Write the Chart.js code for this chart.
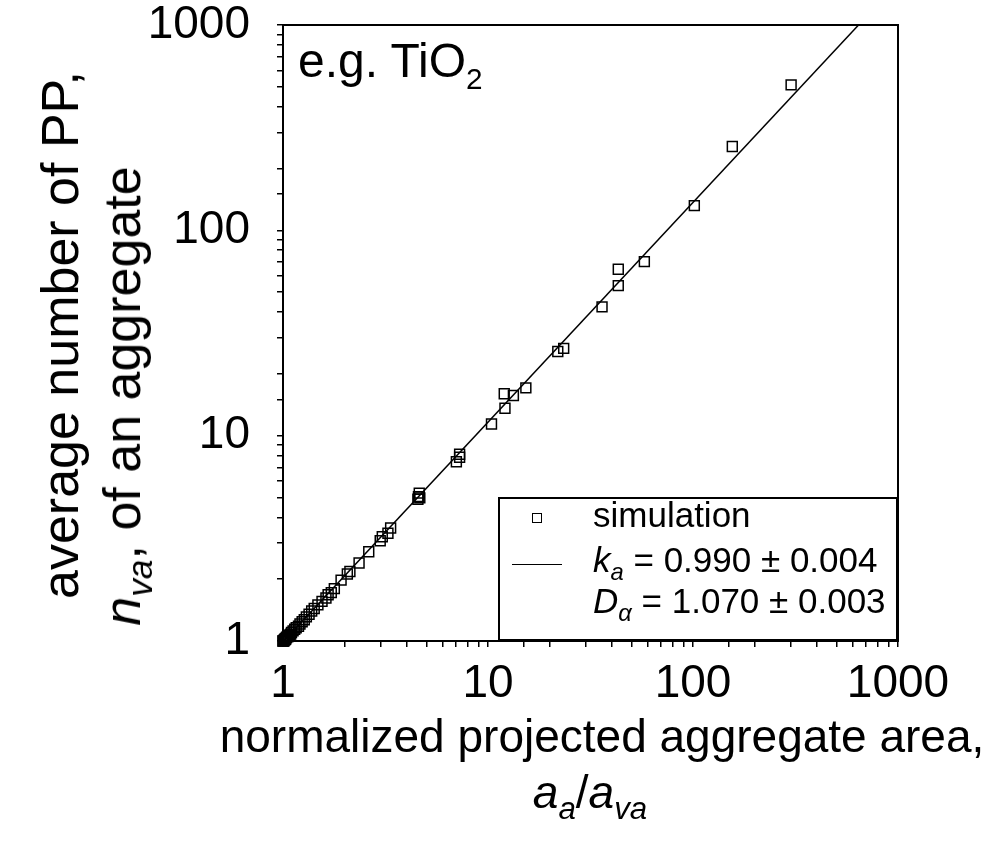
<!DOCTYPE html>
<html>
<head>
<meta charset="utf-8">
<script src="https://cdn.jsdelivr.net/npm/chart.js@4.4.1/dist/chart.umd.min.js"></script>
<style>
  html, body { margin: 0; padding: 0; background: #fff; }
  #wrap { position: relative; width: 994px; height: 858px; overflow: hidden; font-family: "Liberation Sans", Arial, sans-serif; color: #000; }
  #wrap canvas { position: absolute; left: 0; top: 0; }
  .t { position: absolute; white-space: nowrap; line-height: 1; }
  .sub { font-size: 0.68em; position: relative; top: 0.34em; }
  .legbox { position: absolute; left: 498px; top: 497px; width: 400px; height: 144px; border: 2px solid #000; box-sizing: border-box; background: #fff; }
</style>
</head>
<body>
<div id="wrap">
  <canvas id="chart" width="994" height="858"></canvas>

  <div class="t" style="left:298px; top:37px; font-size:48px;">e.g. TiO<span class="sub" style="font-size:0.62em; top:0.4em;">2</span></div>

  <div class="legbox"></div>
  <div style="position:absolute; left:532px; top:513px; width:10px; height:10px; border:1.5px solid #000; box-sizing:border-box;"></div>
  <div style="position:absolute; left:512px; top:564px; width:50px; border-top:1.5px solid #000;"></div>
  <div class="t" style="left:593px; top:497px; font-size:35px;">simulation</div>
  <div class="t" style="left:593px; top:542px; font-size:35px;"><i>k</i><span class="sub"><i>a</i></span> = 0.990 ± 0.004</div>
  <div class="t" style="left:593px; top:583px; font-size:35px;"><i>D</i><span class="sub"><i>α</i></span> = 1.070 ± 0.003</div>

  <div class="t" style="left:602px; top:713px; font-size:46px; transform:translateX(-50%);">normalized projected aggregate area,</div>
  <div class="t" style="left:590px; top:769px; font-size:46px; transform:translateX(-50%);"><i>a</i><span class="sub"><i>a</i></span>/<i>a</i><span class="sub"><i>va</i></span></div>

  <div class="t" style="left:60px; top:335px; font-size:52px; transform:translate(-50%,-50%) rotate(-90deg);">average number of PP,</div>
  <div class="t" style="left:122px; top:396px; font-size:52px; transform:translate(-50%,-50%) rotate(-90deg);"><i>n</i><span class="sub"><i>va</i></span>, of an aggregate</div>
</div>
<script>
// simulation points
const simX = [301, 155.5, 101.5, 57.9, 43.2, 43.2, 36.0, 23.4, 21.9, 15.3, 13.3, 12.0, 12.1, 10.4,
  7.27, 7.27, 7.01, 4.62, 4.58, 4.55, 4.65, 3.35, 3.25, 3.05, 2.98, 2.62, 2.35, 2.12, 2.06, 1.92,
  1.78, 1.72, 1.66, 1.62, 1.55, 1.48, 1.42, 1.38, 1.34, 1.30, 1.27, 1.24, 1.21, 1.19, 1.16, 1.14,
  1.12, 1.10, 1.09, 1.08, 1.07, 1.06, 1.05, 1.04, 1.03, 1.03, 1.02, 1.02, 1.01, 1.01, 1.00, 1.00];
const simY = [511, 256, 132, 70.4, 64.6, 53.8, 42.4, 26.6, 25.7, 17.1, 15.7, 16.0, 13.6, 11.4,
  8.12, 7.85, 7.47, 5.25, 5.05, 4.90, 4.98, 3.55, 3.35, 3.22, 3.08, 2.72, 2.40, 2.18, 2.12, 1.98,
  1.80, 1.72, 1.68, 1.62, 1.56, 1.50, 1.44, 1.40, 1.35, 1.31, 1.27, 1.24, 1.21, 1.18, 1.16, 1.14,
  1.12, 1.10, 1.08, 1.07, 1.06, 1.05, 1.05, 1.04, 1.03, 1.02, 1.02, 1.01, 1.01, 1.00, 1.00, 1.00];

// fitted power law, end points of the drawn line
const fitX = [1, 642];
const fitY = [0.99, 1000];

const axisTicks = [1, 10, 100, 1000];

const FONT = '"Liberation Sans", Arial, sans-serif';

const isMajor = v => axisTicks.some(t => Math.abs(t - v) < 1e-6 * t);

const framePlugin = {
  id: 'frame',
  afterDraw(chart) {
    const { ctx, chartArea: a } = chart;
    ctx.save();
    ctx.strokeStyle = '#000';
    ctx.lineWidth = 2;
    ctx.strokeRect(a.left, a.top, a.right - a.left, a.bottom - a.top);
    ctx.restore();
  }
};

const axisOpts = (fit) => ({
  type: 'logarithmic',
  min: 1,
  max: 1000,
  afterFit: fit,
  border: { color: '#000', width: 2 },
  grid: { drawOnChartArea: false, drawTicks: true, tickLength: 6, color: '#000', lineWidth: 1.5 },
  ticks: {
    autoSkip: false,
    maxRotation: 0,
    color: '#000',
    font: { family: FONT, size: 46, lineHeight: 1 },
    callback: v => isMajor(v) ? String(Math.round(v)) : ''
  }
});

// fixed axis sizes so the plot box lands where it is in the picture
const xAxis = axisOpts(s => { s.height = 217; s.paddingLeft = 0; s.paddingRight = 0; });
xAxis.ticks.padding = 14;
const yAxis = axisOpts(s => { s.width = 283; s.paddingTop = 0; s.paddingBottom = 0; });
yAxis.ticks.padding = 27;

new Chart(document.getElementById('chart').getContext('2d'), {
  type: 'scatter',
  data: {
    datasets: [
      {
        label: 'simulation',
        data: simX.map((x, i) => ({ x, y: simY[i] })),
        pointStyle: 'rect',
        pointRadius: 7,
        borderColor: '#000',
        borderWidth: 1.5,
        backgroundColor: 'rgba(0,0,0,0)',
        clip: false
      },
      {
        label: 'fit',
        data: fitX.map((x, i) => ({ x, y: fitY[i] })),
        showLine: true,
        pointRadius: 0,
        borderColor: '#000',
        borderWidth: 1.5
      }
    ]
  },
  options: {
    responsive: false,
    animation: false,
    devicePixelRatio: 1,
    layout: { padding: { left: 0, top: 25, right: 96, bottom: 0 } },
    plugins: { legend: { display: false }, tooltip: { enabled: false } },
    scales: { x: xAxis, y: yAxis }
  },
  plugins: [framePlugin]
});
</script>
</body>
</html>
